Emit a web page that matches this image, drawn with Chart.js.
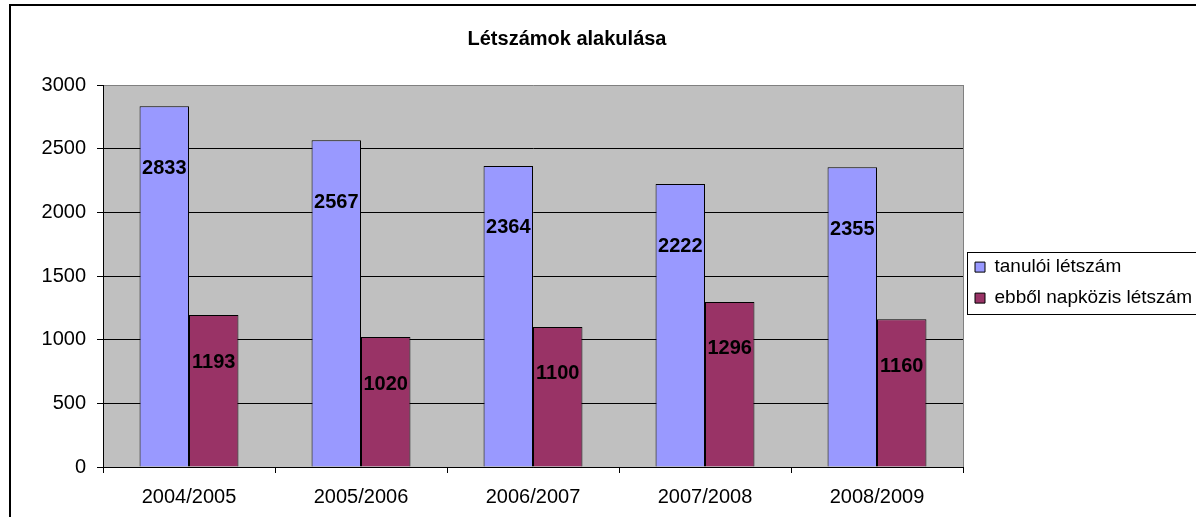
<!DOCTYPE html>
<html lang="hu">
<head>
<meta charset="utf-8">
<title>Létszámok alakulása</title>
<script src="https://cdn.jsdelivr.net/npm/chart.js@4/dist/chart.umd.min.js"></script>
<style>
  html, body { margin: 0; padding: 0; background: #fff; }
  #wrap { width: 1196px; height: 517px; overflow: hidden; }
</style>
</head>
<body>
<div id="wrap"><canvas id="myChart" width="1196" height="517"></canvas></div>
<script>
// Adatok a grafikonhoz
let tanevek = ['2004/2005', '2005/2006', '2006/2007', '2007/2008', '2008/2009'];
let tanuloiLetszam = [2833, 2567, 2364, 2222, 2355];
let napkozisLetszam = [1193, 1020, 1100, 1296, 1160];
let sorozatNevek = ['tanulói létszám', 'ebből napközis létszám'];
let yTickek = [0, 500, 1000, 1500, 2000, 2500, 3000];

// Címkék függőleges eltolása az oszlop tetejétől (sorozatonként)
let cimkeEltolas = [62, 47];

Chart.defaults.font.family = '"Liberation Sans", Arial, sans-serif';
Chart.defaults.color = '#000';

// Szürke rajzterület, szegélyek, jelmagyarázat kerete
let hatterPlugin = {
    id: 'hatter',
    beforeDraw: function(chart) {
        let ctx = chart.ctx;
        let a = chart.chartArea;
        ctx.save();
        ctx.fillStyle = '#c0c0c0';
        ctx.fillRect(a.left, a.top, a.right - a.left, a.bottom - a.top);
        ctx.restore();
    },
    afterDraw: function(chart) {
        let ctx = chart.ctx;
        let a = chart.chartArea;
        ctx.save();
        ctx.strokeStyle = '#808080';
        ctx.lineWidth = 1;
        ctx.beginPath();
        ctx.moveTo(Math.round(a.right) + 0.5, a.top);
        ctx.lineTo(Math.round(a.right) + 0.5, a.bottom);
        ctx.stroke();

        // keret a jelmagyarázat körül
        let lg = chart.legend;
        let boxes = lg.legendHitBoxes;
        let last = boxes[boxes.length - 1];
        let top = Math.round(boxes[0].top - 6);
        let bottom = Math.round(last.top + last.height + 6);
        ctx.strokeStyle = '#000';
        ctx.strokeRect(Math.round(lg.left) + 4.5, top + 0.5, 400, bottom - top);

        // külső keret
        ctx.lineWidth = 2;
        ctx.strokeRect(10, 5, 1400, 700);
        ctx.restore();
    }
};

// Értékcímkék az oszlopokon belül
let ertekPlugin = {
    id: 'ertekek',
    afterDatasetsDraw: function(chart) {
        let ctx = chart.ctx;
        ctx.save();
        ctx.font = 'bold 20px "Liberation Sans", Arial, sans-serif';
        ctx.fillStyle = '#000';
        ctx.textAlign = 'center';
        ctx.textBaseline = 'middle';
        chart.data.datasets.forEach(function(ds, i) {
            let meta = chart.getDatasetMeta(i);
            meta.data.forEach(function(bar, j) {
                ctx.fillText(ds.data[j], bar.x, bar.y + cimkeEltolas[i]);
            });
        });
        ctx.restore();
    }
};

let ctx = document.getElementById('myChart').getContext('2d');
let myChart = new Chart(ctx, {
    type: 'bar',
    data: {
        labels: tanevek,
        datasets: [{
            label: sorozatNevek[0],
            data: tanuloiLetszam,
            backgroundColor: '#9999ff',
            borderColor: '#000',
            borderWidth: 1
        }, {
            label: sorozatNevek[1],
            data: napkozisLetszam,
            backgroundColor: '#993366',
            borderColor: '#000',
            borderWidth: 1
        }]
    },
    options: {
        responsive: false,
        animation: false,
        // negatív bal margó: a cím így kerül az eredeti helyére (az eredeti diagram jobbra túlnyúlik)
        layout: { padding: { left: -62, right: 0, top: 0, bottom: 0 } },
        datasets: {
            bar: { categoryPercentage: 0.575, barPercentage: 1 }
        },
        plugins: {
            title: {
                display: true,
                text: 'Létszámok alakulása',
                color: '#000',
                font: { size: 20, weight: 'bold' },
                padding: { top: 27, bottom: 34 }
            },
            legend: {
                position: 'right',
                fullSize: false,
                maxWidth: 233,
                title: { display: true, text: '', padding: 6, font: { size: 1 } },
                labels: {
                    boxWidth: 10,
                    boxHeight: 10,
                    padding: 12,
                    color: '#000',
                    font: { size: 19 }
                }
            },
            tooltip: { enabled: false }
        },
        scales: {
            x: {
                grid: { drawOnChartArea: false, drawTicks: true, tickLength: 6, color: '#000', offset: true },
                border: { color: '#000', width: 1 },
                ticks: { color: '#000', font: { size: 20 }, padding: 12, maxRotation: 0 },
                afterFit: function(scale) { scale.height = 50; }
            },
            y: {
                min: 0,
                max: 3000,
                afterBuildTicks: function(scale) {
                    scale.ticks = yTickek.map(function(v) { return { value: v }; });
                },
                grid: {
                    color: function(c) { return c.tick && c.tick.value === 3000 ? '#808080' : '#000'; },
                    tickColor: '#000',
                    tickLength: 6
                },
                border: { color: '#000', width: 1 },
                ticks: {
                    color: '#000',
                    font: { size: 20 },
                    padding: 11,
                    callback: function(value) { return String(value); }
                },
                afterFit: function(scale) { scale.width = 165; }
            }
        }
    },
    plugins: [hatterPlugin, ertekPlugin]
});
</script>
</body>
</html>
